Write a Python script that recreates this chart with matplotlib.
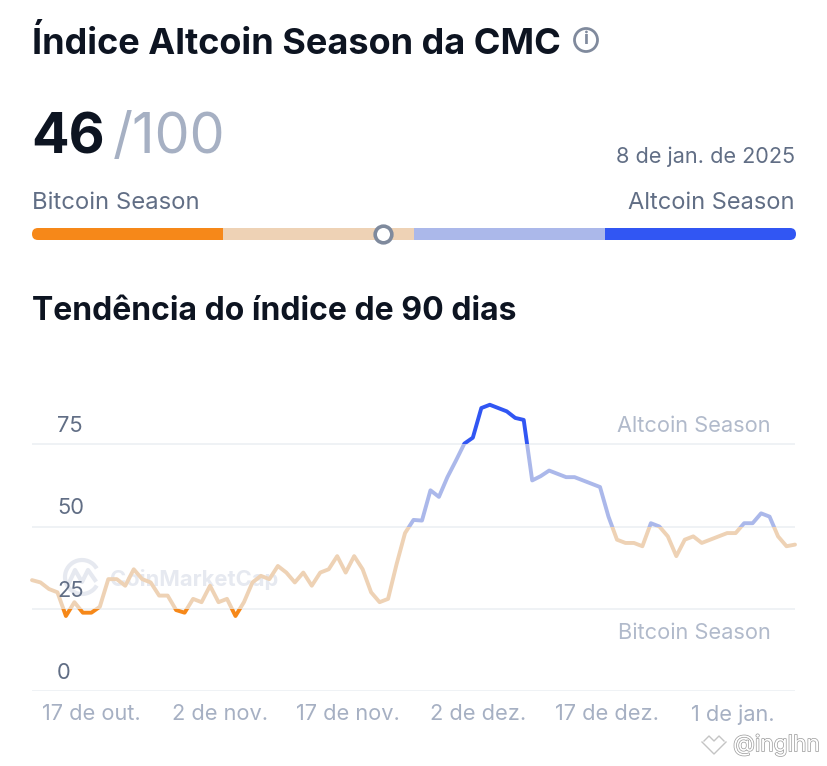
import matplotlib
matplotlib.use('Agg')
import matplotlib.pyplot as plt
import matplotlib.patheffects as pe
from matplotlib.patches import Rectangle, Circle, FancyBboxPatch, Arc
import numpy as np

plt.rcParams['font.family'] = ['Inter', 'DejaVu Sans']

# index values, one per day (10 Oct to 8 Jan)
index_values = [33.7, 33, 31, 30, 22.8, 27, 23.8, 23.8, 25.6, 34, 34, 32, 37, 34, 33, 29,
                29, 24.6, 23.8, 28, 27, 32, 27, 28, 22.8, 27, 33, 35, 34, 38, 36, 33,
                36, 32, 36, 37, 41, 36, 41, 37, 30, 27, 28, 38.5, 48, 52, 51.8, 61, 59, 65,
                70, 75.2, 77, 86, 87, 86, 85, 83, 82.4, 64, 65.3, 67, 66, 65, 65, 64, 63, 62,
                53, 46, 45, 45, 44, 51, 50, 47, 41, 46, 47, 45, 46, 47, 48, 48, 51, 51, 54, 53,
                47, 44, 44.5]
date_positions = [7, 22.2, 37.3, 52.6, 67.8, 82.7]
date_labels = ['17 de out.', '2 de nov.', '17 de nov.', '2 de dez.', '17 de dez.', '1 de jan.']
y_ticks = [0, 25, 50, 75]
band_edges = [0, 25, 50, 75, 100]
band_colors = ['#f68819', '#eed2b5', '#abb8ea', '#3156f3']
current_value = 46

W, H = 828, 766
DARK = '#0d1421'
GREY = '#616e85'
LIGHT = '#a6b0c3'
GRID = '#eff2f5'


def px_axes(left, top, right, bottom):
    return fig.add_axes([left / W, 1 - bottom / H, (right - left) / W, (bottom - top) / H])


fig = plt.figure(figsize=(W / 100, H / 100), dpi=100)

# background layer in pixel coords for header text and watermarks
bg = fig.add_axes([0, 0, 1, 1])
bg.set_xlim(0, W)
bg.set_ylim(H, 0)
bg.axis('off')

bg.text(32, 43, 'Índice Altcoin Season da CMC', fontsize=26, fontweight='bold', color=DARK, va='center')
bg.add_patch(Circle((586, 40), 11.5, fill=False, ec='#808a9d', lw=2))
bg.text(586, 40, 'i', fontsize=13, fontweight='bold', color='#808a9d', ha='center', va='center')

bg.text(31, 138, '46', fontsize=40, fontweight='bold', color=DARK, va='center')
bg.text(113, 138, '/100', fontsize=40, color=LIGHT, va='center')
bg.text(795, 157, '8 de jan. de 2025', fontsize=15.6, color=GREY, ha='right', va='center')
bg.text(32, 203, 'Bitcoin Season', fontsize=17.2, color=GREY, va='center')
bg.text(795, 203, 'Altcoin Season', fontsize=17, color=GREY, ha='right', va='center')
bg.text(32, 312, 'Tendência do índice de 90 dias', fontsize=23, fontweight='bold', color=DARK, va='center')

# coinmarketcap watermark behind the chart
bg.add_patch(Arc((82, 577), 34, 34, theta1=30, theta2=330, ec='#e6e9f0', lw=3))
bg.plot([68, 75, 82, 88, 95], [585, 570, 582, 570, 580], color='#e6e9f0', lw=3)
bg.text(110, 579, 'CoinMarketCap', fontsize=15.8, fontweight='bold', color='#e6e9f0', va='center')

# image credit bottom right
bg.text(733, 745, '@inglhn', fontsize=16.3, color='white', va='center',
        path_effects=[pe.withStroke(linewidth=1, foreground='#9a9a9a')])
bg.plot([702, 714, 726], [742, 754, 742], color='#c4c4c4', lw=1)
bg.plot([704, 709, 714, 719, 724], [741, 736, 741, 736, 741], color='#c4c4c4', lw=1)

# season gauge
gauge = px_axes(32, 228, 796, 240)
gauge.set_xlim(0, 100)
gauge.set_ylim(0, 1)
gauge.axis('off')
clip = FancyBboxPatch((32, 228), 764, 12, boxstyle='round,pad=0,rounding_size=6', transform=bg.transData)
for i, c in enumerate(band_colors):
    bar = gauge.barh(0.5, band_edges[i + 1] - band_edges[i], left=band_edges[i], height=1, color=c, lw=0)
    bar[0].set_clip_path(clip)
gauge.plot([current_value], [0.5], 'o', ms=12, mfc='white', mec='#7f8a9d', mew=2.6, clip_on=False)

# trend chart
ax = px_axes(32, 391, 795, 691)
ax.patch.set_alpha(0)
days = np.arange(len(index_values))
ax.set_xlim(0, days[-1])
ax.set_ylim(0, 300 / 3.29)
for s in ax.spines.values():
    s.set_visible(False)
ax.set_yticks(y_ticks)
ax.set_yticklabels([])
ax.set_xticks(date_positions)
ax.set_xticklabels(date_labels, fontsize=15.7, color=LIGHT)
ax.tick_params(length=0, pad=9.5)
ax.grid(True, axis='y', color=GRID, lw=1.4)
ax.set_axisbelow(True)

# same line four times, each clipped to its band
for i, c in enumerate(band_colors):
    top = band_edges[i + 1]
    line, = ax.plot(days, index_values, color=c, lw=2.8, solid_joinstyle='round', solid_capstyle='round')
    line.set_clip_path(Rectangle((-5, band_edges[i]), 110, top - band_edges[i], transform=ax.transData))

for v in y_ticks:
    ax.annotate(str(v), (0, v), xytext=(57, 18), xycoords=('axes fraction', 'data'),
                textcoords=('figure pixels', 'offset pixels'), fontsize=15.8, color=GREY, va='center')
ax.annotate('Altcoin Season', (1, 75), xytext=(-24, 18), xycoords=('axes fraction', 'data'),
            textcoords='offset pixels', fontsize=15.7, color='#b1bacb', ha='right', va='center')
ax.annotate('Bitcoin Season', (1, 25), xytext=(-24, -24), xycoords=('axes fraction', 'data'),
            textcoords='offset pixels', fontsize=15.7, color='#b1bacb', ha='right', va='center')

fig.savefig('out.png', dpi=100)
